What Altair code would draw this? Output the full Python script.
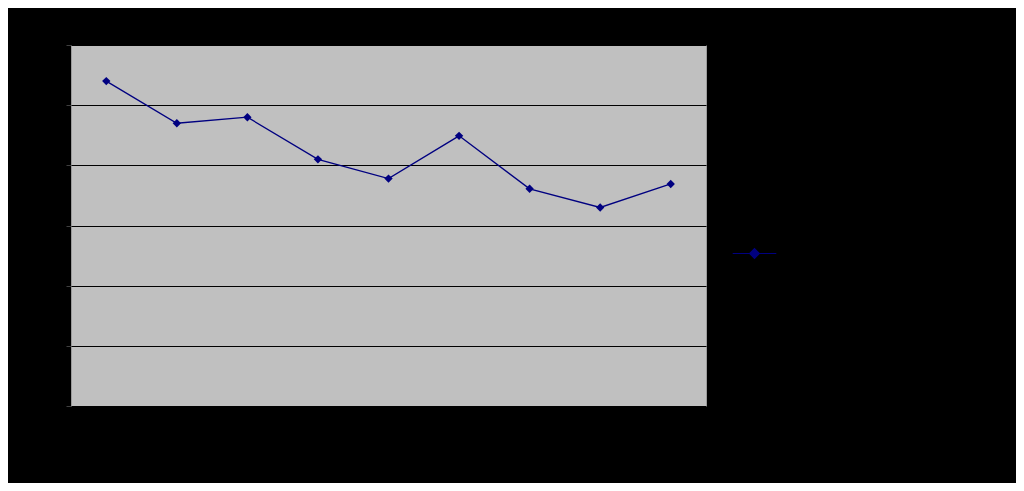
import altair as alt
import pandas as pd

categories = ["1", "2", "3", "4", "5", "6", "7", "8", "9"]
values = [54.0, 47.0, 48.0, 41.0, 37.8, 44.9, 36.1, 33.0, 36.9]
series_name = ["Series1"] * len(categories)
y_ticks = [0, 10, 20, 30, 40, 50, 60]

df = pd.DataFrame({"cat": categories, "value": values, "series": series_name})

color = alt.Color(
    "series:N",
    scale=alt.Scale(range=["#000080"]),
    legend=alt.Legend(
        title=None,
        orient="none",
        legendX=661,
        legendY=186,
        padding=0,
        symbolType="M-1,0L1,0M0,-0.22L0.22,0L0,0.22L-0.22,0Z",
        symbolSize=1900,
        symbolStrokeWidth=1.2,
        symbolFillColor="#000080",
        labelColor="#000000",
        labelFontSize=12,
    ),
)

x = alt.X(
    "cat:N",
    sort=categories,
    scale=alt.Scale(type="point", padding=0.5),
    axis=alt.Axis(title=None, labelAngle=0, labelColor="#000000", grid=False,
                  domain=False, ticks=False, labelPadding=10),
)
y = alt.Y(
    "value:Q",
    scale=alt.Scale(domain=[0, 60], nice=False),
    axis=alt.Axis(title=None, values=y_ticks, labelColor="#000000", grid=True,
                  gridColor="#000000", gridWidth=1, gridOpacity=1,
                  domain=False, tickColor="#404040", tickSize=5),
)

line = alt.Chart(df).mark_line(strokeWidth=1.3).encode(x=x, y=y, color=color)
points = alt.Chart(df).mark_point(shape="diamond", filled=True, size=70, opacity=1).encode(
    x=x, y=y, color=alt.Color("series:N", scale=alt.Scale(range=["#000080"]), legend=None)
)

chart = (
    alt.layer(line, points)
    .properties(
        width=635,
        height=361,
        background="#000000",
        padding={"left": 63, "top": 37, "right": 310, "bottom": 77},
        autosize=alt.AutoSizeParams(type="none"),
    )
    .configure_view(fill="#c0c0c0", stroke="#9a9a9a", strokeWidth=1)
)

chart.save("out.html", embed_options={"renderer": "svg", "actions": False})
